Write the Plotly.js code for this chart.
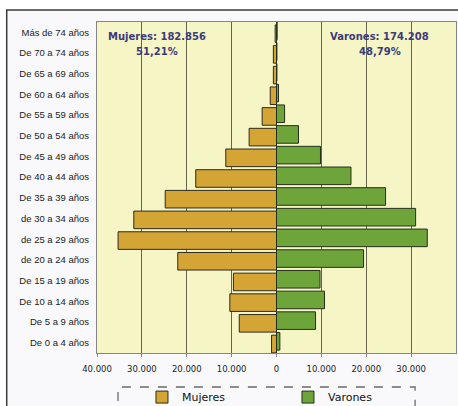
<!DOCTYPE html>
<html>
<head>
<meta charset="utf-8">
<script src="https://cdn.plot.ly/plotly-3.0.1.min.js"></script>
<style>html,body{margin:0;padding:0;background:#fff;}#chart{width:458px;height:406px;}</style>
</head>
<body>
<div id="chart"></div>
<script>
// Age groups, top to bottom
const categories = [
  "Más de 74 años", "De 70 a 74 años", "De 65 a 69 años", "De 60 a 64 años",
  "De 55 a 59 años", "De 50 a 54 años", "De 45 a 49 años", "De 40 a 44 años",
  "De 35 a 39 años", "de 30 a 34 años", "de 25 a 29 años", "de 20 a 24 años",
  "De 15 a 19 años", "De 10 a 14 años", "De 5 a 9 años", "De 0 a 4 años"
];
// Population
const mujeres = [300, 700, 700, 1400, 3200, 6100, 11300, 18000, 24800, 31800, 35300, 22000, 9600, 10400, 8300, 1100];
const varones = [150, 100, 100, 450, 1800, 4900, 9800, 16600, 24300, 31000, 33600, 19400, 9700, 10700, 8700, 750];
const tickValues = [-40000, -30000, -20000, -10000, 0, 10000, 20000, 30000];
const tickLabels = ["40.000", "30.000", "20.000", "10.000", "0", "10.000", "20.000", "30.000"];
const totalMujeres = "Mujeres: 182.856";
const pctMujeres = "51,21%";
const totalVarones = "Varones: 174.208";
const pctVarones = "48,79%";

const traces = [
  {
    type: "bar", orientation: "h", name: "Mujeres",
    y: categories, x: mujeres.map(v => -v),
    width: 0.85, offset: -0.36,
    marker: {color: "#d4a534", line: {color: "#2e2a1e", width: 1}},
    hoverinfo: "skip"
  },
  {
    type: "bar", orientation: "h", name: "Varones",
    y: categories, x: varones,
    width: 0.85, offset: -0.49,
    marker: {color: "#6ea53a", line: {color: "#25301c", width: 1}},
    hoverinfo: "skip"
  }
];

const annFont = {family: "DejaVu Sans", size: 10, color: "#3d3b78", weight: "bold"};
const layout = {
  width: 458, height: 406,
  margin: {l: 97, r: 2, t: 22, b: 53, pad: 0},
  paper_bgcolor: "#ffffff",
  plot_bgcolor: "rgba(0,0,0,0)",
  barmode: "overlay",
  showlegend: true,
  legend: {
    orientation: "h", xref: "container", yref: "container",
    x: 0.31, xanchor: "left", y: 0.022, yanchor: "middle",
    entrywidth: 101, entrywidthmode: "pixels",
    bgcolor: "rgba(0,0,0,0)", borderwidth: 0,
    font: {family: "DejaVu Sans", size: 11, color: "#111"},
    traceorder: "normal"
  },
  xaxis: {
    range: [-40000, 40000], tickvals: tickValues, ticktext: tickLabels,
    showgrid: true, gridcolor: "#66664f", gridwidth: 1,
    zeroline: true, zerolinecolor: "#111", zerolinewidth: 1,
    showline: true, mirror: true, linecolor: "#858585", linewidth: 1,
    ticks: "outside", ticklen: 3, tickcolor: "#858585",
    tickfont: {family: "DejaVu Sans", size: 8.5, color: "#222"},
    ticklabelstandoff: 5, fixedrange: true
  },
  yaxis: {
    type: "category", categoryorder: "array", categoryarray: categories,
    autorange: "reversed", showgrid: false, zeroline: false,
    showline: true, mirror: true, linecolor: "#858585", linewidth: 1,
    ticks: "", tickfont: {family: "Liberation Sans", size: 9.5, color: "#222"},
    ticklabelstandoff: 5, fixedrange: true
  },
  shapes: [
    {type: "rect", xref: "paper", yref: "paper", layer: "below",
     x0: -0.2515, x1: 1.02, y0: -0.2, y1: 1.0363,
     fillcolor: "#f9f9fc", line: {color: "#3a3a3a", width: 1.5}},
    {type: "rect", xref: "x domain", yref: "y domain", layer: "below",
     x0: 0, x1: 1, y0: 0, y1: 1, fillcolor: "#f5f5c6", line: {width: 0}},
    {type: "rect", xref: "paper", yref: "paper",
     x0: 0.0585, x1: 0.886, y0: -0.25, y1: -0.1027,
     fillcolor: "rgba(0,0,0,0)", line: {color: "#6a6a6a", width: 1.3, dash: "dash"}}
  ],
  annotations: [
    {xref: "paper", yref: "paper", x: 0.1685, y: 0.9547, text: totalMujeres, showarrow: false, font: annFont, xanchor: "center", yanchor: "middle"},
    {xref: "paper", yref: "paper", x: 0.1685, y: 0.9094, text: pctMujeres, showarrow: false, font: annFont, xanchor: "center", yanchor: "middle"},
    {xref: "paper", yref: "paper", x: 0.788, y: 0.9547, text: totalVarones, showarrow: false, font: annFont, xanchor: "center", yanchor: "middle"},
    {xref: "paper", yref: "paper", x: 0.788, y: 0.9094, text: pctVarones, showarrow: false, font: annFont, xanchor: "center", yanchor: "middle"}
  ]
};

Plotly.newPlot("chart", traces, layout, {staticPlot: true, displayModeBar: false});
</script>
</body>
</html>
